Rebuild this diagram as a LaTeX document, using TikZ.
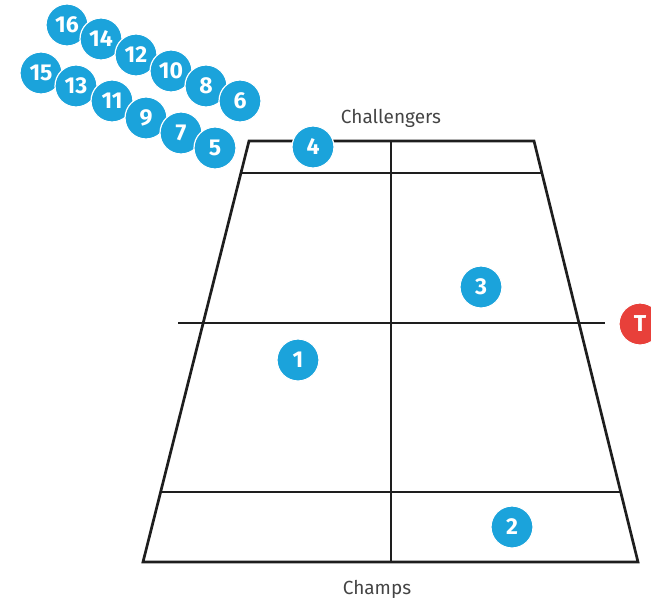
\documentclass[tikz,border=0pt]{standalone}
\usepackage{fontspec}
\setmainfont{Fira Sans}
\definecolor{cblue}{HTML}{1BA3DB}
\definecolor{cred}{HTML}{E8403A}
\definecolor{ctext}{HTML}{444444}
\definecolor{cline}{HTML}{1E1E1E}
\begin{document}
\begin{tikzpicture}[x=1pt,y=-1pt,
  court/.style={draw=cline,line width=2.7pt},
  ball/.style={circle,fill=cblue,draw=white,line width=1.2pt,minimum size=42pt,inner sep=0pt,text=white,font=\fontsize{23}{23}\selectfont\bfseries},
  tball/.style={ball,fill=cred},
  lab/.style={text=ctext,font=\fontsize{19}{19}\selectfont}]
\useasboundingbox (0,0) rectangle (651,600);
% court corners
\coordinate (tl) at (249,141);
\coordinate (tr) at (534,141);
\coordinate (bl) at (143,562);
\coordinate (br) at (638,562);
\coordinate (sl) at (241,173);
\coordinate (sr) at (542,173);
\coordinate (nl) at (178,323);
\coordinate (nr) at (605,323);
\coordinate (ql) at (161,492);
\coordinate (qr) at (622,492);
\coordinate (ct) at (391,141);
\coordinate (cb) at (391,562);
\draw[court,line join=miter] (tl) -- (tr) -- (br) -- (bl) -- cycle;
\draw[court] (sl) -- (sr);
\draw[court] (nl) -- (nr);
\draw[court] (ql) -- (qr);
\draw[court] (ct) -- (cb);
% labels
\node[lab] (chal) at (391,118) {Challengers};
\node[lab] (champ) at (377,589) {Champs};
% balls
\node[ball] (b16) at (67,25) {16};
\node[ball] (b14) at (101,39) {14};
\node[ball] (b12) at (136,55) {12};
\node[ball] (b10) at (171,71) {10};
\node[ball] (b8) at (206,86) {8};
\node[ball] (b6) at (240,101) {6};
\node[ball] (b15) at (41,73) {15};
\node[ball] (b13) at (76,86) {13};
\node[ball] (b11) at (112,101) {11};
\node[ball] (b9) at (146,118) {9};
\node[ball] (b7) at (181,133) {7};
\node[ball] (b5) at (215,148) {5};
\node[ball] (b4) at (313,147) {4};
\node[ball] (b3) at (481,287) {3};
\node[ball] (b1) at (298,360) {1};
\node[ball] (b2) at (512,527) {2};
\node[tball] (t) at (640,324) {T};
\end{tikzpicture}
\end{document}
